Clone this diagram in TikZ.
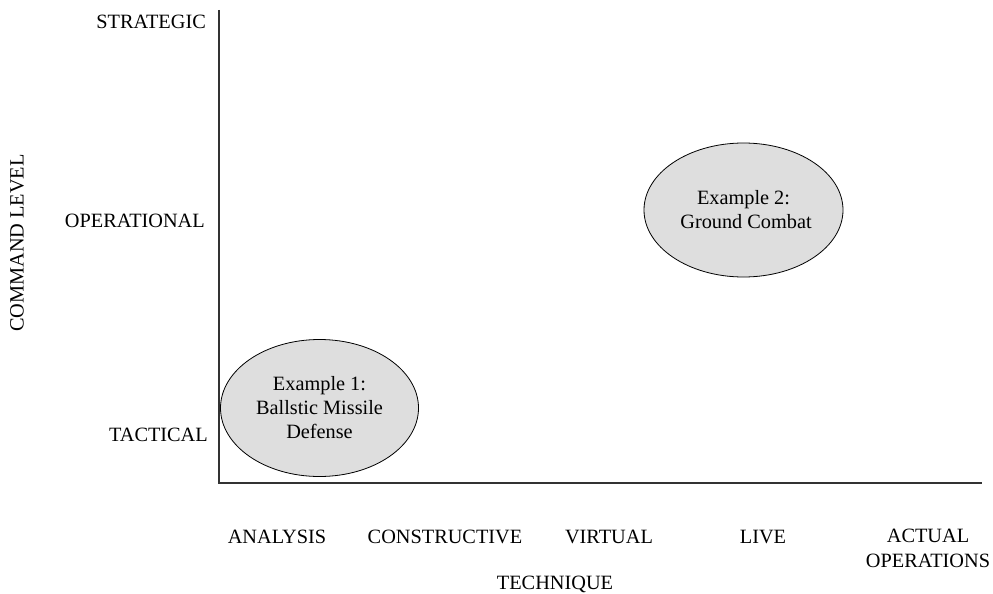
\documentclass[tikz,border=0pt]{standalone}
\usepackage{fontspec}
\setmainfont{Liberation Serif}
\usetikzlibrary{shapes.geometric}
\begin{document}
\begin{tikzpicture}[x=1pt,y=-1pt,
  every node/.style={font=\fontsize{20.3}{24}\selectfont, inner sep=0pt},
  axis/.style={draw=black!80, line width=1.4pt},
  lvl/.style={anchor=east},
  tech/.style={anchor=center, align=center},
  blob/.style={ellipse, draw=black, line width=0.8pt, fill=black!13, align=center, inner sep=0pt}]
\useasboundingbox (0,0) rectangle (993,594);

% axes
\coordinate (top) at (219,10);
\coordinate (origin) at (219,483);
\coordinate (right) at (982,483);
\draw[axis] (top) -- (origin) -- (right);

% command levels
\node[lvl] (strat) at (206,22) {STRATEGIC};
\node[lvl] (oper) at (205,221) {OPERATIONAL};
\node[lvl] (tact) at (208,435) {TACTICAL};
\node[rotate=90] (cmd) at (17,243) {COMMAND LEVEL};

% techniques
\node[tech] (ana) at (277,537) {ANALYSIS};
\node[tech] (cons) at (445,537) {CONSTRUCTIVE};
\node[tech] (virt) at (609,537) {VIRTUAL};
\node[tech] (live) at (763,537) {LIVE};
\node[tech, anchor=north] (act) at (928,529) {ACTUAL\\[1pt]OPERATIONS};
\node[tech] (techn) at (555,584) {TECHNIQUE};

% examples
\node[blob, minimum width=198pt, minimum height=137pt] (ex1) at (319.5,408)
  {Example 1:\\Ballstic Missile\\Defense};
\node[blob, minimum width=199pt, minimum height=134pt] (ex2) at (743.5,210)
  {Example 2:\\\ Ground Combat};
\end{tikzpicture}
\end{document}
